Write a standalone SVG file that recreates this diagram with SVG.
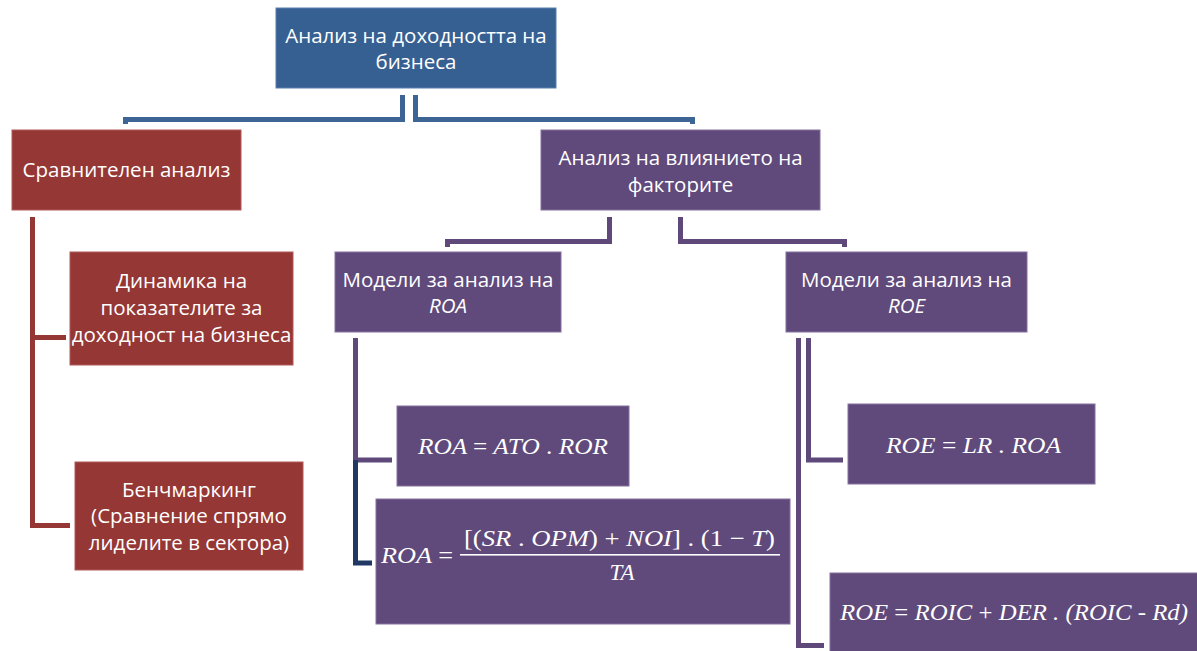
<svg xmlns="http://www.w3.org/2000/svg" width="1197" height="651" viewBox="0 0 1197 651">
<style>
.blue{fill:#376092;stroke:#5a7fae;stroke-width:1}
.red{fill:#953735;stroke:#b05a58;stroke-width:1}
.pur{fill:#604A7B;stroke:#8470a0;stroke-width:1}
.t{font-family:"Open Sans","Noto Sans","Liberation Sans",sans-serif;font-size:20.5px;fill:#fff;text-anchor:middle}
.m{font-family:"Liberation Serif","Times New Roman",serif;font-style:italic;font-size:23px;fill:#fff}
.u{font-style:normal}
.lb{fill:none;stroke:#3C6494;stroke-width:5}
.lr{fill:none;stroke:#953735;stroke-width:5}
.lp{fill:none;stroke:#5F497A;stroke-width:5}
.ln{fill:none;stroke:#1F3864;stroke-width:5}
</style>
<g id="connectors">
  <path class="lb" d="M402.5,95 V119.5 H125.5 V124"/>
  <path class="lb" d="M415.5,95 V119.5 H692.5 V124"/>
  <path class="lr" d="M32.5,217 V525.5 H70"/>
  <path class="lr" d="M32.5,337.5 H66"/>
  <path class="lp" d="M609.5,217 V241.5 H447.5 V247"/>
  <path class="lp" d="M680.5,217 V241.5 H844.5 V247"/>
  <path class="lp" d="M355.5,338 V460 H392"/>
  <path class="ln" d="M355.5,460 V563 H372"/>
  <path class="lp" d="M798.5,338 V645.5 H824"/>
  <path class="lp" d="M808.5,338 V460 H843"/>
</g>
<g id="n-top">
  <rect class="blue" x="276" y="8" width="280" height="80"/>
  <text class="t" x="416" y="43">Анализ на доходността на</text>
  <text class="t" x="416" y="69">бизнеса</text>
</g>
<g id="n-comp">
  <rect class="red" x="12" y="130" width="229" height="80"/>
  <text class="t" x="126.5" y="177">Сравнителен анализ</text>
</g>
<g id="n-dyn">
  <rect class="red" x="70" y="252" width="223" height="113"/>
  <text class="t" x="181.5" y="288">Динамика на</text>
  <text class="t" x="181.5" y="315">показателите за</text>
  <text class="t" x="181.5" y="342">доходност на бизнеса</text>
</g>
<g id="n-bench">
  <rect class="red" x="75" y="462" width="228" height="108"/>
  <text class="t" x="189" y="497">Бенчмаркинг</text>
  <text class="t" x="189" y="523">(Сравнение спрямо</text>
  <text class="t" x="189" y="550">лиделите в сектора)</text>
</g>
<g id="n-factors">
  <rect class="pur" x="541" y="130" width="279" height="80"/>
  <text class="t" x="680.5" y="165">Анализ на влиянието на</text>
  <text class="t" x="680.5" y="192">факторите</text>
</g>
<g id="n-roa">
  <rect class="pur" x="335" y="252" width="226" height="80"/>
  <text class="t" x="448" y="287">Модели за анализ на</text>
  <text class="t" x="448" y="313" font-style="italic">ROA</text>
</g>
<g id="n-roe">
  <rect class="pur" x="786" y="252" width="241" height="80"/>
  <text class="t" x="906.5" y="287">Модели за анализ на</text>
  <text class="t" x="906.5" y="313" font-style="italic">ROE</text>
</g>
<g id="n-roa1">
  <rect class="pur" x="397" y="406" width="232" height="80"/>
  <text class="m" x="418" y="454" textLength="190" lengthAdjust="spacingAndGlyphs">ROA <tspan class="u">=</tspan> ATO <tspan class="u">.</tspan> ROR</text>
</g>
<g id="n-roa2">
  <rect class="pur" x="376" y="499" width="414" height="125"/>
  <text class="m" x="381" y="563" textLength="72" lengthAdjust="spacingAndGlyphs">ROA <tspan class="u">=</tspan></text>
  <text class="m" x="464" y="546" textLength="311" lengthAdjust="spacingAndGlyphs"><tspan class="u">[(</tspan>SR <tspan class="u">.</tspan> OPM<tspan class="u">) + </tspan>NOI<tspan class="u">] . (1 − </tspan>T<tspan class="u">)</tspan></text>
  <rect x="460" y="554" width="320" height="1.6" fill="#fff"/>
  <text class="m" x="622" y="580" text-anchor="middle">TA</text>
</g>
<g id="n-roe1">
  <rect class="pur" x="848" y="404" width="247" height="80"/>
  <text class="m" x="886" y="453" textLength="175" lengthAdjust="spacingAndGlyphs">ROE  <tspan class="u">=</tspan> LR . ROA</text>
</g>
<g id="n-roe2">
  <rect class="pur" x="830" y="573" width="368" height="80"/>
  <text class="m" x="840" y="620" textLength="348" lengthAdjust="spacingAndGlyphs">ROE <tspan class="u">=</tspan> ROIC <tspan class="u">+</tspan> DER . (ROIC - Rd)</text>
</g>
</svg>
